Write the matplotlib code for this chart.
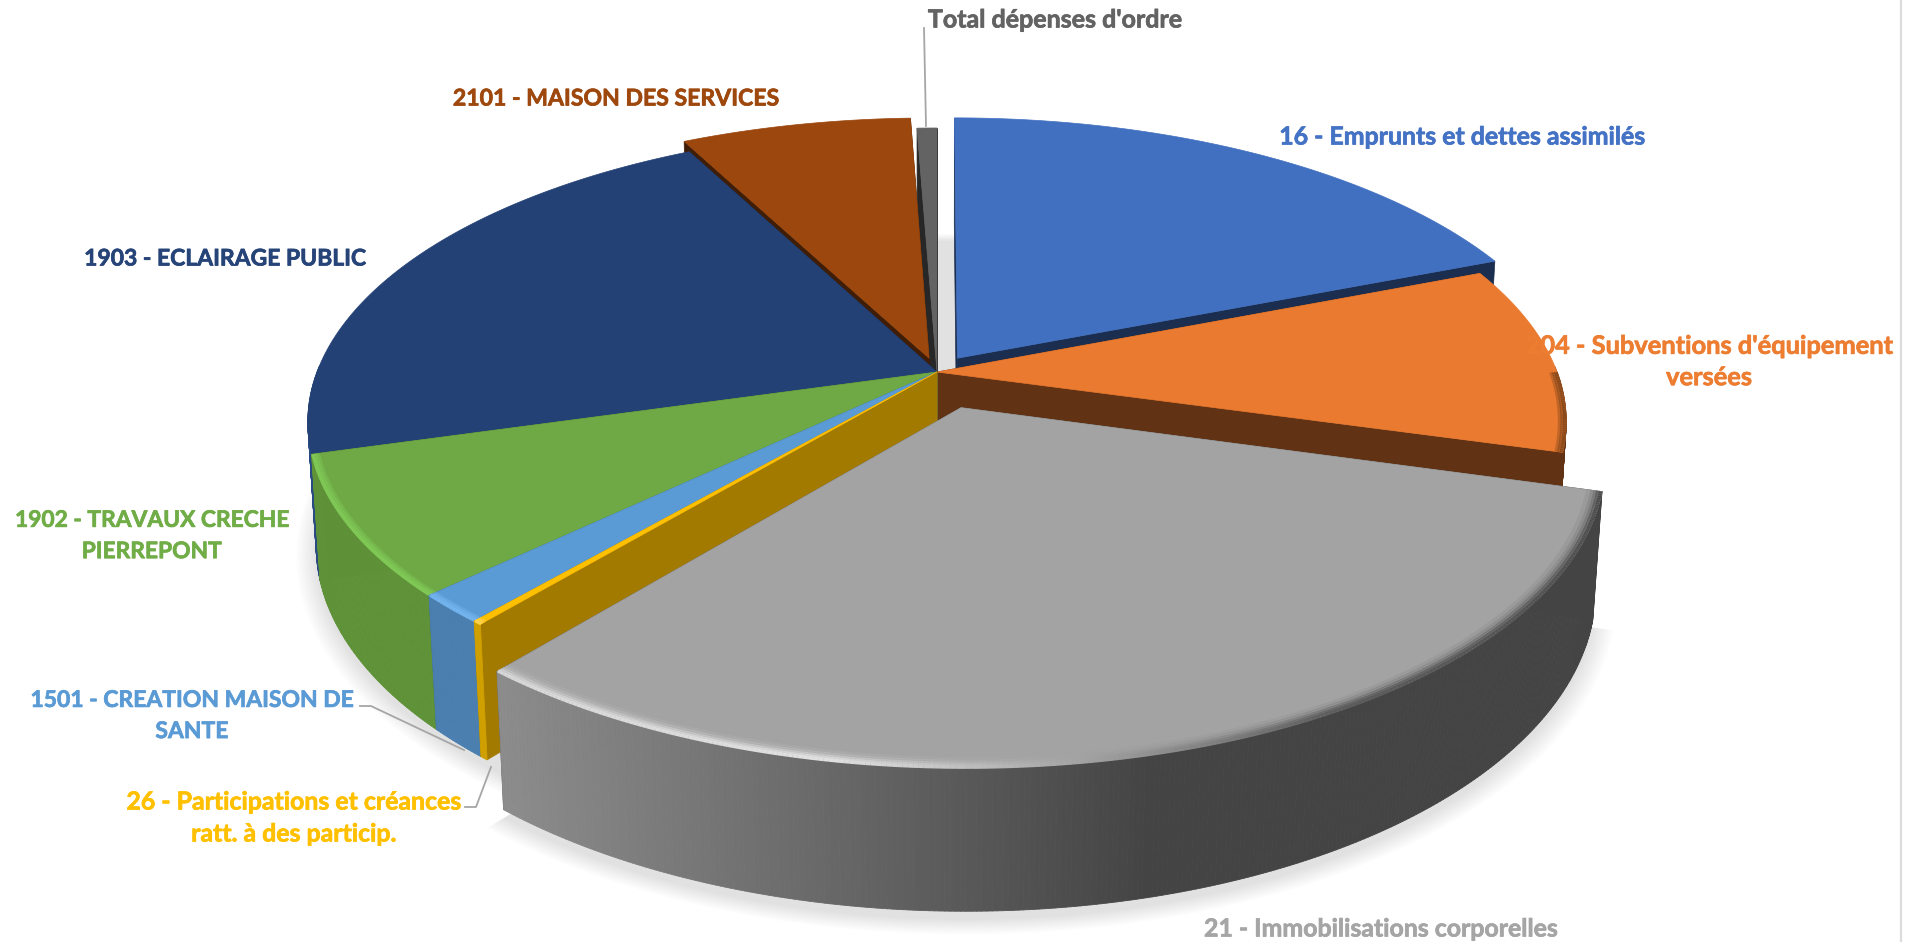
import numpy as np
import matplotlib
matplotlib.use("Agg")
import matplotlib.pyplot as plt
import matplotlib.patheffects as pe
from matplotlib.collections import PolyCollection, LineCollection
from matplotlib.patches import Polygon, PathPatch
from matplotlib.path import Path

#-----Data-----#
labels = ["16 - Emprunts et dettes assimilés", "204 - Subventions d'équipement\nversées",
          "21 - Immobilisations corporelles", "26 - Participations et créances\nratt. à des particip.",
          "1501 - CREATION MAISON DE\nSANTE", "1902 - TRAVAUX CRECHE\nPIERREPONT",
          "1903 - ECLAIRAGE PUBLIC", "2101 - MAISON DES SERVICES", "Total dépenses d'ordre"]
values = [19.0, 10.3, 31.7, 0.2, 1.6, 7.7, 21.8, 7.0, 0.6]
explode = [0.059, 0, 0.128, 0, 0, 0, 0, 0.05, 0]

#-----Style-----#
top_colors = ["#4170c0", "#ea7a2f", "#a3a3a3", "#ffc000", "#5b9bd5", "#6ea946", "#244175", "#9b470d", "#636363"]
side_colors = ["#2f5597", "#613214", "#444444", "#d0a000", "#4a7fb0", "#5f9238", "#2a4a82", "#7a380b", "#4a4a4a"]
face_colors = ["#1b2e50", "#613214", "#444444", "#a37a00", "#365f86", "#3f6129", "#0f1c30", "#401d06", "#272727"]
rim_colors = [None, "#8a4a1c", None, "#ffd24d", "#74b4ee", "#80c957", None, None, None]
text_colors = ["#4472c4", "#ed7d31", "#a5a5a5", "#ffc000", "#5b9bd5", "#70ad47", "#264478", "#9e480e", "#636363"]
# text centre in pixels, and size (the capitals run wide in this font)
text_pos = [(1462, 137), (1709, 362), (1381, 929), (294, 818), (192, 716),
            (152, 536), (225, 259), (616, 99), (1055, 20)]
text_size = [17.9, 18.3, 17.9, 17.9, 16.5, 16.4, 16.5, 16.6, 18.0]
leaders = [[(360, 706), (371, 706), (464, 750)], [(465, 807), (476, 807), (491, 767)], [(924, 28), (926, 126)]]
draw_order = [0, 8, 7, 6, 1, 5, 4, 3, 2]

# Projection of the pie in pixels
CX, CY = 937, 372
A, B, K = 620, 285.5, 0.17
H, Q = 123, 0.013


def project(u, v, z=0.0):
    w = 1 + K * v + Q * z
    return CX + A * u / w, CY + (-B * v + H * z) / w


def arc(mid, e, theta, r=1.0, z=0.0):
    t = np.radians(theta)
    m = np.radians(mid)
    return project(e * np.sin(m) + r * np.sin(t), e * np.cos(m) + r * np.cos(t), z)


ends = np.cumsum(values) / np.sum(values) * 360
starts = np.concatenate([[0], ends[:-1]])
mids = (starts + ends) / 2

fig = plt.figure(figsize=(19.17, 9.42), dpi=100)
ax = fig.add_axes([0, 0, 1, 1])
ax.set_xlim(0, 1917)
ax.set_ylim(942, 0)
ax.axis("off")

# thin frame line on the right of the picture
ax.plot([1901, 1901], [0, 942], color="#dcdcdc", lw=1.6, zorder=0.5)

# Soft floor shadow: whole disc + the pulled out slice, one path so layers do not double
grey = 2
for i in range(10):
    r = 1.0 + 0.0035 * i
    t_all = np.linspace(0, 360, 300)
    x1, y1 = arc(0, 0, t_all, r, 1.06)
    t_g = np.linspace(starts[grey], ends[grey], 120)
    x2, y2 = arc(mids[grey], explode[grey], t_g, r, 1.06)
    ax_, ay_ = arc(mids[grey], explode[grey], np.array([0.0]), 0.0, 1.06)
    verts = list(zip(x1, y1)) + [(x1[0], y1[0])] + [(ax_[0], ay_[0])] + list(zip(x2, y2)) + [(ax_[0], ay_[0])]
    codes = [Path.MOVETO] + [Path.LINETO] * len(x1) + [Path.MOVETO] + [Path.LINETO] * (len(x2) + 1)
    ax.add_patch(PathPatch(Path(verts, codes), fc="black", ec="none", alpha=0.0115, zorder=1))

z = 2
for i in draw_order:
    s, f, m, e = starts[i], ends[i], mids[i], explode[i]
    theta = np.arange(s, f, 0.4)
    theta = np.append(theta, f)

    # cut faces
    for a in (s, f):
        ax0, ay0 = arc(m, e, np.array([a]), 0.0)
        bx0, by0 = arc(m, e, np.array([a]), 0.0, 1.0)
        ax1, ay1 = arc(m, e, np.array([a]))
        bx1, by1 = arc(m, e, np.array([a]), 1.0, 1.0)
        ax.add_patch(Polygon([(ax0[0], ay0[0]), (ax1[0], ay1[0]), (bx1[0], by1[0]), (bx0[0], by0[0])],
                             fc=face_colors[i], ec=face_colors[i], lw=0.5, zorder=z))

    # outer side, front part only
    tx, ty = arc(m, e, theta)
    bx, by = arc(m, e, theta, 1.0, 1.0)
    quads = []
    cols = []
    for j in range(len(theta) - 1):
        if np.cos(np.radians((theta[j] + theta[j + 1]) / 2)) > 0.02:
            continue
        quads.append([(tx[j], ty[j]), (tx[j + 1], ty[j + 1]), (bx[j + 1], by[j + 1]), (bx[j], by[j])])
        if i == grey:
            g = np.interp((tx[j] + tx[j + 1]) / 2, [503, 1150], [0x8c, 0x44]) / 255
            cols.append((g, g, g))
        else:
            cols.append(side_colors[i])
    if quads:
        ax.add_collection(PolyCollection(quads, facecolors=cols, edgecolors=cols, linewidths=0.6, zorder=z + 0.1))

    # top
    ox, oy = arc(m, e, np.array([s]), 0.0)
    ax.add_patch(Polygon([(ox[0], oy[0])] + list(zip(tx, ty)), fc=top_colors[i], ec=top_colors[i],
                         lw=0.5, zorder=z + 0.2))

    # bevel along the rim, only on the part turned to the viewer
    insets = [0.998, 0.994, 0.990, 0.985, 0.979]
    alphas = [1.0, 0.7, 0.45, 0.25, 0.1]
    if i == grey:
        levels = np.interp(theta, [105, 150, 172, 190, 220], [0.30, 0.36, 0.65, 0.88, 0.84])
    for r, al in zip(insets, alphas):
        if i != grey and rim_colors[i] is None:
            continue
        if i != grey and r < 0.99:
            continue
        lx, ly = arc(m, e, theta, r)
        segs = [[(lx[j], ly[j]), (lx[j + 1], ly[j + 1])] for j in range(len(theta) - 1)
                if np.cos(np.radians(theta[j])) < 0.0]
        if i == grey:
            c = [(g, g, g) for g in levels[:-1]][-len(segs):]
        else:
            c = rim_colors[i]
        if segs:
            ax.add_collection(LineCollection(segs, colors=c, linewidths=2.6, alpha=al, zorder=z + 0.3))
    z += 1

#-----Labels-----#
for pts in leaders:
    ax.plot([p[0] for p in pts], [p[1] for p in pts], color="#a6a6a6", lw=1.3, zorder=50)
for lab, col, (x, y), size in zip(labels, text_colors, text_pos, text_size):
    ax.text(x, y, lab, color=col, fontsize=size, family="Lato", fontweight="bold", ha="center", va="center",
            linespacing=33 / (1.253 * size), zorder=60, path_effects=[pe.withStroke(linewidth=0.5, foreground=col)])

fig.savefig("out.png", dpi=100)
